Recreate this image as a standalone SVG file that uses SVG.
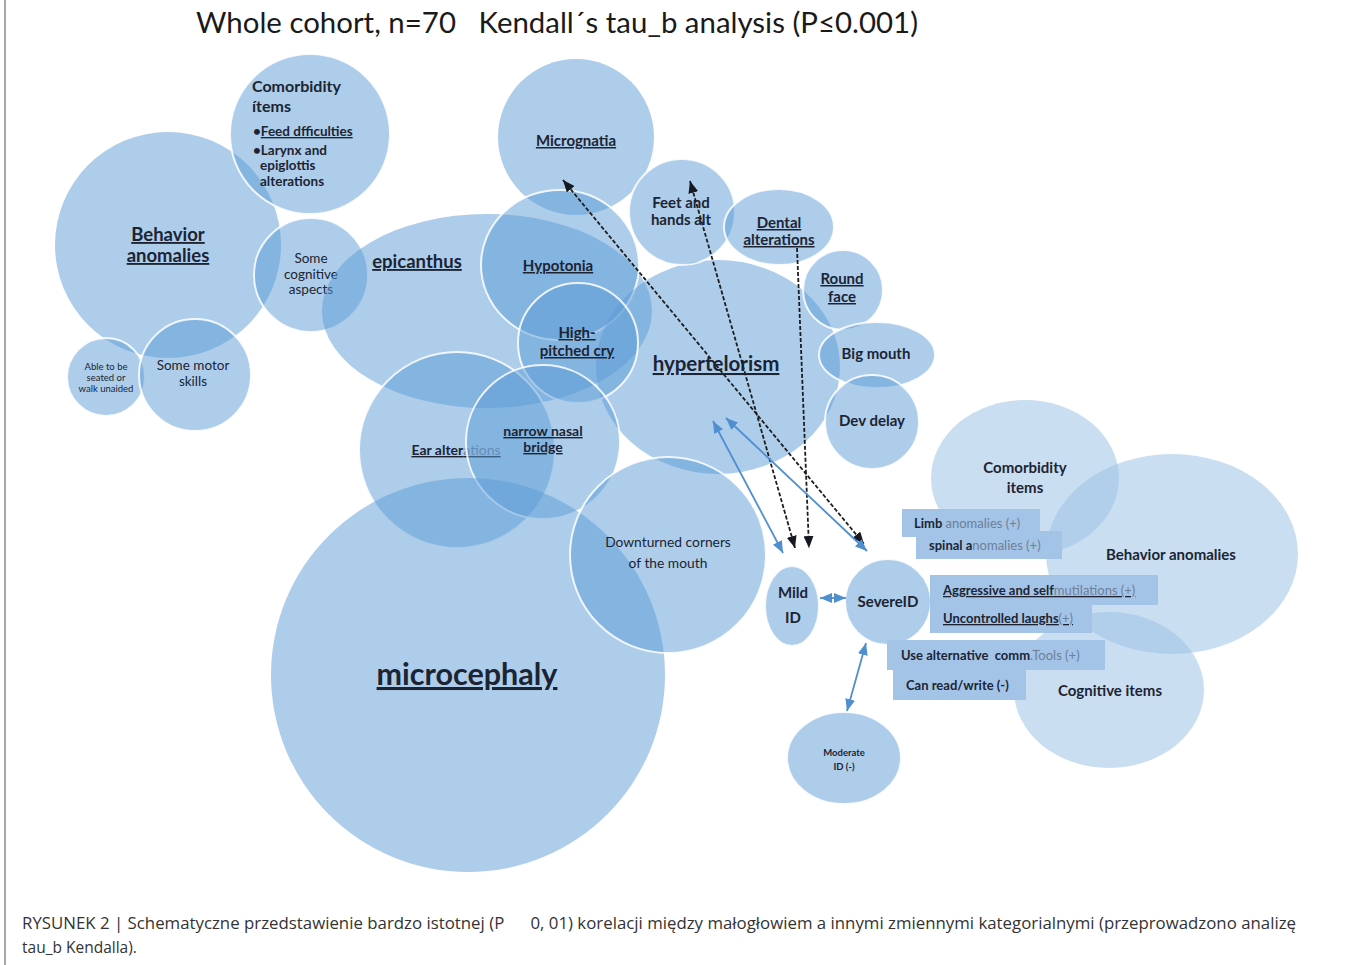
<svg xmlns="http://www.w3.org/2000/svg" width="1351" height="965" viewBox="0 0 1351 965">
<style>
.c{fill:#5b9bd5;fill-opacity:0.5}
.o{stroke:#ffffff;stroke-width:2;stroke-opacity:0.85}
.lt{fill:#9dc3e6;fill-opacity:0.55}
.box{fill:#a3c4e7}
text{font-family:Lato,"Open Sans","Liberation Sans",sans-serif;fill:#1c2433;white-space:pre}
.b{font-weight:bold}
.u{text-decoration:underline}
.m{text-anchor:middle}
.g{fill:#6e7f96;font-weight:normal}
.dash{fill:none;stroke:#1e1e1e;stroke-width:1.8;stroke-dasharray:4 2}
.blue{fill:none;stroke:#4f8fd0;stroke-width:1.8}
</style>
<defs>
<marker id="hk" viewBox="0 0 12 10" refX="12" refY="5" markerWidth="12" markerHeight="10" markerUnits="userSpaceOnUse" orient="auto-start-reverse"><path d="M0,0 L12,5 L0,10 z" fill="#151a22"/></marker>
<marker id="hb" viewBox="0 0 12 10" refX="12" refY="5" markerWidth="12" markerHeight="10" markerUnits="userSpaceOnUse" orient="auto-start-reverse"><path d="M0,0 L12,5 L0,10 z" fill="#4f8fd0"/></marker>
</defs>
<rect x="0" y="0" width="1351" height="965" fill="#ffffff"/>
<line x1="5" y1="0" x2="5" y2="965" stroke="#8a8a8a" stroke-width="1.5"/>
<text xml:space="preserve" x="196" y="33" font-size="28" textLength="722" lengthAdjust="spacingAndGlyphs" style="fill:#1a1a1a">Whole cohort, n=70   Kendall´s tau_b analysis (P≤0.001)</text>

<g id="behavior-left"><circle class="c" cx="168" cy="245" r="113"/><text class="b u m" x="168" y="241" font-size="18.5">Behavior</text><text class="b u m" x="168" y="262" font-size="18.5">anomalies</text></g>
<g id="comorbidity-left"><circle class="c o" cx="310" cy="134" r="80"/>
<text class="b" x="252" y="92" font-size="16">Comorbidity</text><text class="b" x="252" y="112" font-size="16">ítems</text>
<text class="b" x="253" y="136" font-size="13.5">•<tspan class="u">Feed dfficulties</tspan></text>
<text class="b" x="253" y="155" font-size="13.5">•Larynx and</text><text class="b" x="260" y="170" font-size="13.5">epiglottis</text><text class="b" x="260" y="186" font-size="13.5">alterations</text></g>
<g id="cognitive-aspects"><circle class="c o" cx="311" cy="275" r="57"/><text class="m" x="311" y="263" font-size="13.5">Some</text><text class="m" x="311" y="279" font-size="13.5">cognitive</text><text class="m" x="311" y="294" font-size="13.5">aspects</text></g>
<g id="able-seated"><circle class="c o" cx="106" cy="377" r="39"/><text class="m" x="106" y="370" font-size="9.5">Able to be</text><text class="m" x="106" y="381" font-size="9.5">seated or</text><text class="m" x="106" y="392" font-size="9.5">walk unaided</text></g>
<g id="motor-skills"><circle class="c o" cx="195" cy="375" r="56"/><text class="m" x="193" y="370" font-size="13.5">Some motor</text><text class="m" x="193" y="386" font-size="13.5">skills</text></g>

<g id="epicanthus"><ellipse class="c" cx="487" cy="311" rx="165" ry="97"/><text class="b u m" x="417" y="268" font-size="18.5">epicanthus</text></g>
<g id="micrognatia"><circle class="c" cx="576" cy="137" r="78"/><text class="b u m" x="576" y="146" font-size="15">Micrognatia</text></g>
<g id="hypotonia"><ellipse class="c o" cx="560" cy="265" rx="79" ry="75"/><text class="b u m" x="558" y="271" font-size="15">Hypotonia</text></g>
<g id="hypertelorism"><ellipse class="c" cx="718" cy="367" rx="122" ry="107"/><text class="b u m" x="716" y="371" font-size="20.5">hypertelorism</text></g>
<g id="high-pitched-cry"><circle class="c o" cx="578" cy="343" r="60"/><text class="b u m" x="577" y="338" font-size="15">High-</text><text class="b u m" x="577" y="356" font-size="15">pitched cry</text></g>
<g id="feet-hands"><circle class="c o" cx="682" cy="212" r="53"/><text class="b m" x="681" y="208" font-size="15">Feet and</text><text class="b m" x="681" y="225" font-size="15">hands alt</text></g>
<g id="dental"><ellipse class="c o" cx="779" cy="227" rx="55" ry="38"/><text class="b u m" x="779" y="228" font-size="15">Dental</text><text class="b u m" x="779" y="245" font-size="15">alterations</text></g>
<g id="round-face"><circle class="c o" cx="843" cy="290" r="40"/><text class="b u m" x="842" y="284" font-size="15">Round</text><text class="b u m" x="842" y="302" font-size="15">face</text></g>
<g id="big-mouth"><ellipse class="c o" cx="877" cy="355" rx="58" ry="33"/><text class="b m" x="876" y="359" font-size="15">Big mouth</text></g>
<g id="dev-delay"><circle class="c o" cx="872" cy="422" r="47"/><text class="b m" x="872" y="426" font-size="15">Dev delay</text></g>
<g id="ear-alterations"><circle class="c o" cx="457" cy="450" r="98"/><text class="b u m" x="456" y="455" font-size="14">Ear alter<tspan class="g" font-weight="bold">ations</tspan></text></g>
<g id="narrow-nasal-bridge"><circle class="c o" cx="543" cy="442" r="77"/><text class="b u m" x="543" y="436" font-size="14">narrow nasal</text><text class="b u m" x="543" y="452" font-size="14">bridge</text></g>
<g id="microcephaly"><circle class="c" cx="468" cy="675" r="197"/><text class="b u m" x="467" y="685" font-size="30.5">microcephaly</text></g>
<g id="downturned"><circle class="c o" cx="668" cy="555" r="98"/><text class="m" x="668" y="547" font-size="13.8">Downturned corners</text><text class="m" x="668" y="568" font-size="13.8">of the mouth</text></g>

<g id="comorbidity-right"><ellipse class="lt" cx="1025" cy="478" rx="94" ry="78"/><text class="b m" x="1025" y="473" font-size="15">Comorbidity</text><text class="b m" x="1025" y="493" font-size="15">items</text></g>
<g id="behavior-right"><ellipse class="lt" cx="1172" cy="554" rx="126" ry="100"/><text class="b m" x="1171" y="560" font-size="15">Behavior anomalies</text></g>
<g id="cognitive-right"><ellipse class="lt" cx="1109" cy="690" rx="95" ry="78"/><text class="b m" x="1110" y="696" font-size="15">Cognitive items</text></g>

<g id="mild-id"><ellipse class="c o" cx="792" cy="606" rx="27" ry="40"/><text class="b m" x="793" y="598" font-size="15">Mild</text><text class="b m" x="793" y="623" font-size="15">ID</text></g>
<g id="severe-id"><circle class="c o" cx="888" cy="602" r="43"/><text class="b m" x="888" y="607" font-size="15">SevereID</text></g>
<g id="moderate-id"><ellipse class="c o" cx="844" cy="758" rx="57" ry="46"/><text class="b m" x="844" y="756" font-size="9.5">Moderate</text><text class="b m" x="844" y="770" font-size="9.5">ID (-)</text></g>

<g id="limb-anomalies"><rect class="box" x="902" y="509" width="138" height="28"/><text class="b" x="914" y="528" font-size="13">Limb <tspan class="g">anomalies (+)</tspan></text></g>
<g id="spinal-anomalies"><rect class="box" x="916" y="531" width="146" height="28"/><text class="b" x="929" y="550" font-size="13">spinal a<tspan class="g">nomalies (+)</tspan></text></g>
<g id="aggressive"><rect class="box" x="930" y="575" width="228" height="30"/><text class="b u" x="943" y="595" font-size="13">Aggressive and self<tspan class="g">mutilations (+)</tspan></text></g>
<g id="uncontrolled-laughs"><rect class="box" x="930" y="605" width="162" height="28"/><text class="b u" x="943" y="623" font-size="13">Uncontrolled laughs<tspan class="g">(+)</tspan></text></g>
<g id="alt-comm-tools"><rect class="box" x="887" y="640" width="218" height="30"/><text xml:space="preserve" class="b" x="901" y="660" font-size="13">Use alternative  comm<tspan class="g">.Tools (+)</tspan></text></g>
<g id="can-read-write"><rect class="box" x="893" y="670" width="133" height="30"/><text class="b" x="906" y="690" font-size="13">Can read/write (-)</text></g>

<g id="connectors">
<line class="dash" x1="690" y1="181" x2="795" y2="548" marker-start="url(#hk)" marker-end="url(#hk)"/>
<line class="dash" x1="797" y1="248" x2="809" y2="548" marker-end="url(#hk)"/>
<line class="dash" x1="563" y1="180" x2="864" y2="544" marker-start="url(#hk)" marker-end="url(#hk)"/>
<line class="blue" x1="713" y1="421" x2="783" y2="553" marker-start="url(#hb)" marker-end="url(#hb)"/>
<line class="blue" x1="726" y1="418" x2="867" y2="551" marker-start="url(#hb)" marker-end="url(#hb)"/>
<line class="blue" x1="820" y1="598" x2="846" y2="598" marker-start="url(#hb)" marker-end="url(#hb)"/>
<line class="blue" x1="866" y1="643" x2="847" y2="711" marker-start="url(#hb)" marker-end="url(#hb)"/>
</g>

<text xml:space="preserve" x="22" y="929" font-size="15.5" textLength="1274" lengthAdjust="spacingAndGlyphs" style="font-family:'Open Sans','Noto Sans',sans-serif;fill:#333333">RYSUNEK 2 | Schematyczne przedstawienie bardzo istotnej (P      0, 01) korelacji między małogłowiem a innymi zmiennymi kategorialnymi (przeprowadzono analizę</text>
<text x="22" y="953" font-size="15.5" style="font-family:'Open Sans','Noto Sans',sans-serif;fill:#333333">tau_b Kendalla).</text>
</svg>
